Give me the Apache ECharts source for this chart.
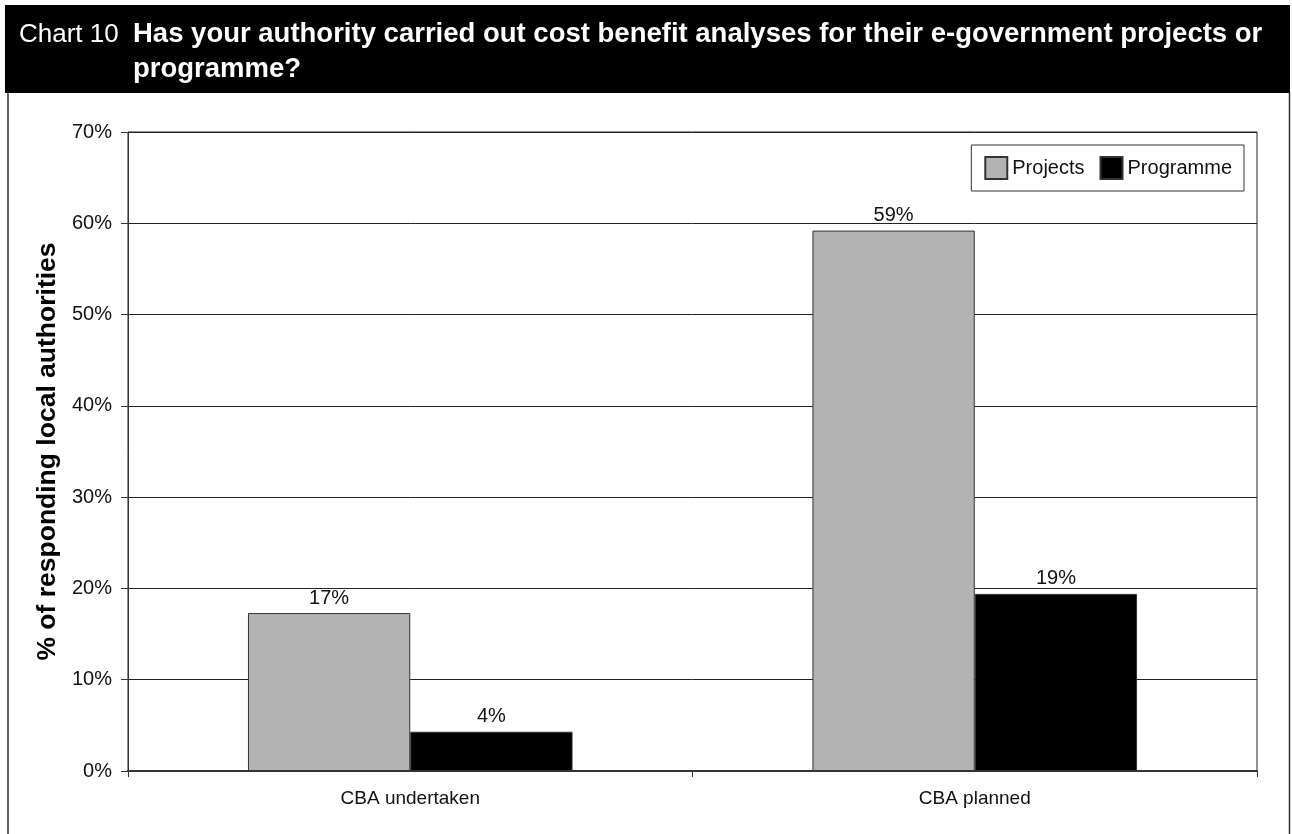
<!DOCTYPE html>
<html>
<head>
<meta charset="utf-8">
<title>Chart 10</title>
<script src="https://cdn.jsdelivr.net/npm/echarts@6/dist/echarts.min.js"></script>
<style>
  html, body { margin: 0; padding: 0; background: #ffffff; }
  #chart { width: 1292px; height: 834px; }
</style>
</head>
<body>
<div id="chart"></div>
<script>
// Survey results: share of responding local authorities
const categories = ['CBA undertaken', 'CBA planned'];
const projects = [17.3, 59.2];
const programme = [4.3, 19.4];
const seriesNames = ['Projects', 'Programme'];
const yTicks = [0, 10, 20, 30, 40, 50, 60, 70];

const sans = "'Liberation Sans', Arial, Helvetica, sans-serif";

const chart = echarts.init(document.getElementById('chart'), null, { renderer: 'canvas' });

const valueLabel = {
  show: true,
  position: 'top',
  distance: 5,
  color: '#111',
  fontFamily: sans,
  fontSize: 20,
  formatter: p => Math.round(p.value) + '%'
};

chart.setOption({
  backgroundColor: '#ffffff',
  animation: false,
  graphic: [
    // heading band
    { type: 'rect', shape: { x: 5, y: 5, width: 1285, height: 88 }, style: { fill: '#000' }, z: 0 },
    // frame around the chart body
    { type: 'line', shape: { x1: 8, y1: 93, x2: 8, y2: 834 }, style: { stroke: '#333', lineWidth: 1.5 } },
    { type: 'line', shape: { x1: 1289.5, y1: 93, x2: 1289.5, y2: 834 }, style: { stroke: '#333', lineWidth: 1.5 } },
    {
      type: 'text', left: 19, top: 17, z: 10,
      style: { text: 'Chart 10', fill: '#fff', font: "26px " + sans, lineHeight: 35 }
    },
    {
      type: 'text', left: 133, top: 17, z: 10,
      style: {
        text: 'Has your authority carried out cost benefit analyses for their e-government projects or\nprogramme?',
        fill: '#fff', font: "bold 27.5px " + sans, lineHeight: 35
      }
    }
  ],
  legend: {
    data: seriesNames,
    right: 48,
    top: 145,
    orient: 'horizontal',
    itemWidth: 22,
    itemHeight: 22,
    itemGap: 15,
    padding: [11, 12, 11, 13],
    borderColor: '#333',
    borderWidth: 1,
    icon: 'rect',
    selectedMode: false,
    textStyle: { fontFamily: sans, fontSize: 20, color: '#111' }
  },
  grid: {
    left: 128,
    right: 35,
    top: 132,
    bottom: 63,
    show: true,
    borderColor: '#222',
    borderWidth: 1,
    containLabel: false
  },
  xAxis: {
    type: 'category',
    data: categories,
    axisLine: { lineStyle: { color: '#333', width: 2 } },
    axisTick: { show: true, length: 6, lineStyle: { color: '#333', width: 1 } },
    axisLabel: { margin: 18, color: '#111', fontFamily: sans, fontSize: 19 },
    splitLine: { show: false }
  },
  yAxis: {
    type: 'value',
    min: yTicks[0],
    max: yTicks[yTicks.length - 1],
    interval: 10,
    name: '% of responding local authorities',
    nameLocation: 'middle',
    nameGap: 45,
    nameRotate: 90,
    nameTextStyle: { fontFamily: sans, fontWeight: 'bold', fontSize: 26.5, color: '#000' },
    axisLine: { show: true, lineStyle: { color: '#333', width: 1 } },
    axisTick: { show: true, length: 7, lineStyle: { color: '#333' } },
    axisLabel: { margin: 16, color: '#111', fontFamily: sans, fontSize: 20, formatter: '{value}%' },
    splitLine: { show: true, lineStyle: { color: '#222', width: 1 } }
  },
  series: [
    {
      name: seriesNames[0],
      type: 'bar',
      data: projects,
      barGap: '0%',
      barCategoryGap: '42.5%',
      itemStyle: { color: '#b3b3b3', borderColor: '#333', borderWidth: 1 },
      label: valueLabel
    },
    {
      name: seriesNames[1],
      type: 'bar',
      data: programme,
      barGap: '0%',
      barCategoryGap: '42.5%',
      itemStyle: { color: '#000', borderColor: '#333', borderWidth: 1 },
      label: valueLabel
    }
  ]
});
</script>
</body>
</html>
